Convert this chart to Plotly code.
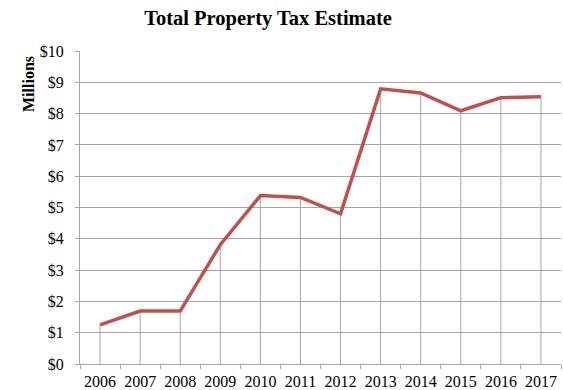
import plotly.graph_objects as go

years = ["2006", "2007", "2008", "2009", "2010", "2011",
         "2012", "2013", "2014", "2015", "2016", "2017"]
tax_millions = [1.25, 1.69, 1.69, 3.81, 5.38, 5.32,
                4.80, 8.79, 8.66, 8.09, 8.51, 8.54]
y_ticks = list(range(0, 11))
y_tick_labels = [f"${v}" for v in y_ticks]

grid_color = "#a6a6a6"
line_color = "#c0504d"
serif = "Liberation Serif, Times New Roman, serif"

# vertical drop lines from each point down to the axis
drop_x, drop_y = [], []
for yr, v in zip(years, tax_millions):
    drop_x += [yr, yr, None]
    drop_y += [0, v, None]

fig = go.Figure()
fig.add_trace(go.Scatter(x=drop_x, y=drop_y, mode="lines",
                         line=dict(color=grid_color, width=1),
                         hoverinfo="skip", showlegend=False))
fig.add_trace(go.Scatter(x=years, y=tax_millions, mode="lines",
                         line=dict(color=line_color, width=3.5),
                         showlegend=False))

fig.update_layout(
    width=563, height=390,
    margin=dict(l=80, r=2, t=51, b=26),
    paper_bgcolor="white", plot_bgcolor="white",
    font=dict(family=serif, size=16, color="black"),
    title=dict(text="<b>Total Property Tax Estimate</b>",
               font=dict(family=serif, size=20.5, color="black"),
               xref="container", x=268 / 563, xanchor="center",
               yref="container", y=1 - 18 / 390, yanchor="middle"),
    xaxis=dict(type="category", categoryorder="array", categoryarray=years,
               tickson="boundaries", ticks="outside", ticklen=4,
               tickcolor=grid_color, showgrid=False,
               showline=True, linecolor=grid_color, linewidth=1,
               tickangle=0, automargin=False, ticklabelstandoff=3,
               range=[-0.5, 11.5], fixedrange=True),
    yaxis=dict(range=[0, 10], tickvals=y_ticks, ticktext=y_tick_labels,
               ticks="outside", ticklen=4, tickcolor=grid_color,
               showgrid=True, gridcolor=grid_color, gridwidth=1,
               showline=True, linecolor=grid_color, linewidth=1,
               automargin=False, ticklabelstandoff=8,
               zeroline=False, fixedrange=True),
    annotations=[dict(text="<b>Millions</b>", textangle=-90,
                      xref="paper", yref="paper",
                      x=(28 - 80) / 481, y=(363 - 83) / 313,
                      xanchor="center", yanchor="middle", showarrow=False,
                      font=dict(family=serif, size=16, color="black"))],
)

fig.write_html("out.html")
